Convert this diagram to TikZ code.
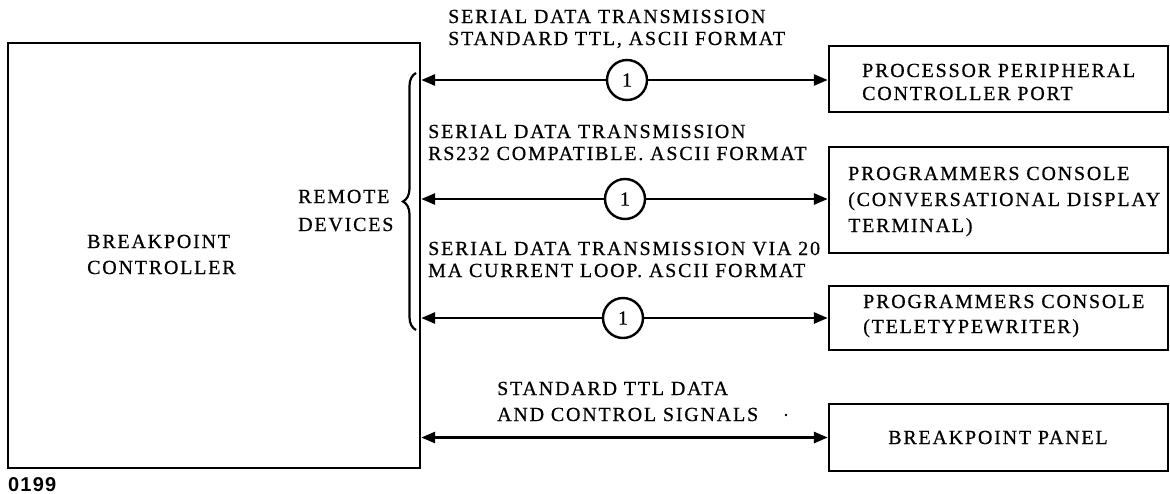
\documentclass[tikz,border=0pt]{standalone}
\usepackage{fontspec}
\setmainfont{Liberation Serif}[LetterSpace=9,FakeBold=0.6]
\newfontfamily\codefont{Liberation Sans}[LetterSpace=6]
\usetikzlibrary{arrows.meta,decorations.pathreplacing}

\begin{document}
\begin{tikzpicture}[x=1pt,y=-1pt,
  box/.style={draw,line width=2.4pt,inner sep=0pt,minimum width=339pt},
  lbl/.style={anchor=base west,inner sep=0pt,font=\fontsize{20}{22}\selectfont},
  link/.style={line width=2.8pt},
  >={Triangle[length=14pt,width=11pt]},
  tag/.style={circle,draw,line width=2.4pt,minimum size=40pt,inner sep=0pt,
    font=\fontsize{20}{20}\selectfont}]
\useasboundingbox (0,0) rectangle (1170,493);

% main unit
\node[draw,line width=2.4pt,inner sep=0pt,minimum width=412pt,minimum height=425pt] (ctrl) at (214,255.5) {};
\node[lbl] (c1) at (87,248) {BREAKPOINT};
\node[lbl] (c2) at (87,274) {CONTROLLER};
\node[lbl] (r1) at (298,203) {REMOTE};
\node[lbl] (r2) at (298,231) {DEVICES};

% peripheral units
\node[box,minimum height=66pt] (b1) at (998.5,79) {};
\node[box,minimum height=106pt] (b2) at (998.5,200) {};
\node[box,minimum height=64pt] (b3) at (998.5,318) {};
\node[box,minimum height=67pt] (b4) at (998.5,437.5) {};

\node[lbl] (t11) at (862,77) {PROCESSOR PERIPHERAL};
\node[lbl] (t12) at (862,100) {CONTROLLER PORT};
\node[lbl] (t21) at (848,180) {PROGRAMMERS CONSOLE};
\node[lbl] (t22) at (848,206) {(CONVERSATIONAL DISPLAY};
\node[lbl] (t23) at (848,232) {TERMINAL)};
\node[lbl] (t31) at (863,308) {PROGRAMMERS CONSOLE};
\node[lbl] (t32) at (863,333) {(TELETYPEWRITER)};
\node[lbl,anchor=base] (t41) at (998,444) {BREAKPOINT PANEL};

% link descriptions
\node[lbl] (l11) at (448,23) {SERIAL DATA TRANSMISSION};
\node[lbl] (l12) at (448,45) {STANDARD TTL, ASCII FORMAT};
\node[lbl] (l21) at (428,138) {SERIAL DATA TRANSMISSION};
\node[lbl] (l22) at (428,160) {RS232 COMPATIBLE. ASCII FORMAT};
\node[lbl] (l31) at (428,255) {SERIAL DATA TRANSMISSION VIA 20};
\node[lbl] (l32) at (428,277) {MA CURRENT LOOP. ASCII FORMAT};
\node[lbl] (l41) at (497,395) {STANDARD TTL DATA};
\node[lbl] (l42) at (497,421) {AND CONTROL SIGNALS};
\node[circle,fill,inner sep=0pt,minimum size=2.8pt] (speck) at (786,415) {};

% interface markers
\node[tag] (k1) at (627,80) {1};
\node[tag] (k2) at (625,199) {1};
\node[tag] (k3) at (623,318) {1};

% connections
\draw[link,->] (k1) -- (ctrl.east |- k1);
\draw[link,->] (k1) -- (b1.west |- k1);
\draw[link,->] (k2) -- (ctrl.east |- k2);
\draw[link,->] (k2) -- (b2.west |- k2);
\draw[link,->] (k3) -- (ctrl.east |- k3);
\draw[link,->] (k3) -- (b3.west |- k3);
\draw[link,<->] (ctrl.east |- b4.west) -- (b4.west);

% grouping brace
\coordinate (brb) at (416,330);
\coordinate (brt) at (416,73);
\draw[line width=2.2pt,decorate,decoration={brace,amplitude=13pt}] (brb) -- (brt);

\node[anchor=base west,inner sep=0pt,font=\codefont\bfseries\fontsize{20}{20}\selectfont] (fig) at (8,491) {0199};
\end{tikzpicture}
\end{document}
